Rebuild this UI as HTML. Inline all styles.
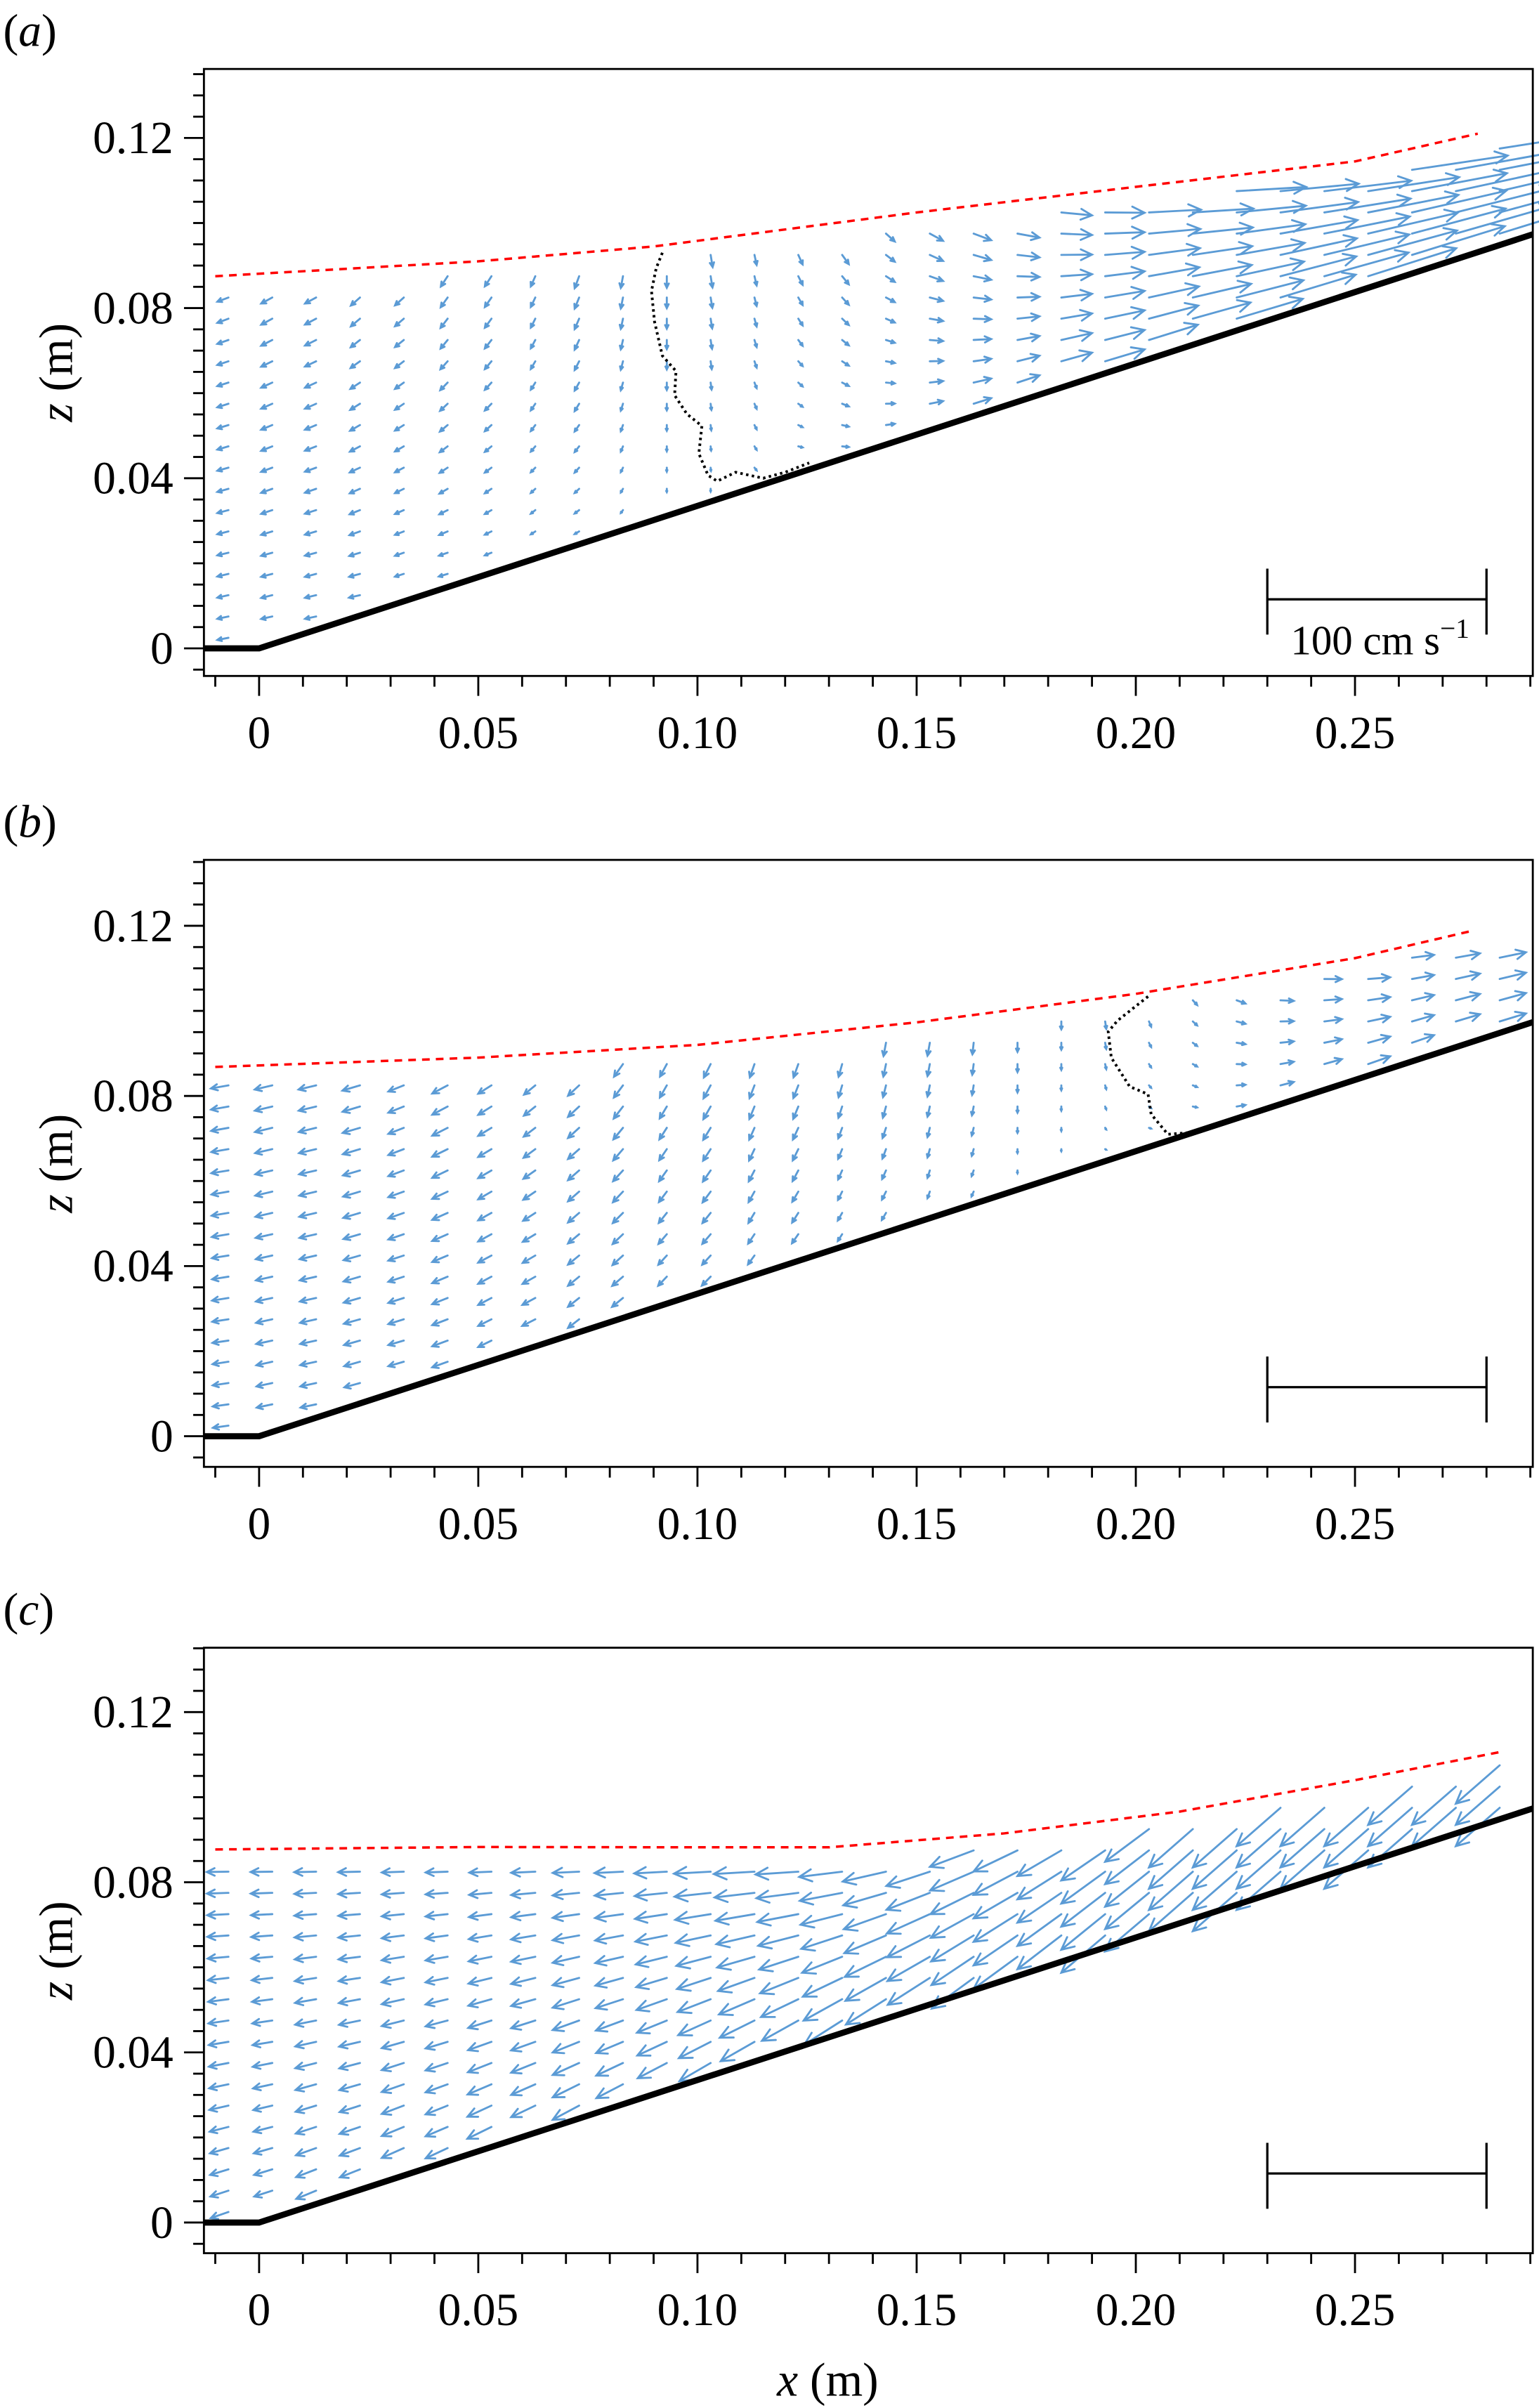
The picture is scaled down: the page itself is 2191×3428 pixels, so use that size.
<!DOCTYPE html>
<html><head><meta charset="utf-8">
<style>
html,body{margin:0;padding:0;background:#fff;}
svg{display:block;}
text{font-family:"Liberation Serif","DejaVu Serif",serif;fill:#000;}
</style></head>
<body>
<svg id="fig" xmlns="http://www.w3.org/2000/svg" width="2191" height="3428" viewBox="0 0 1004 1571">
<text x="2" y="30" font-size="30">(<tspan font-style="italic">a</tspan>)</text>
<text x="2" y="546" font-size="30">(<tspan font-style="italic">b</tspan>)</text>
<text x="2" y="1060" font-size="30">(<tspan font-style="italic">c</tspan>)</text>
<text x="540" y="1563" font-size="31" text-anchor="middle"><tspan font-style="italic">x</tspan> (m)</text>
</svg>
<script>
const xTicks=[0,0.05,0.10,0.15,0.20,0.25];
const xTickLabels=['0','0.05','0.10','0.15','0.20','0.25'];
const yTicks=[0,0.04,0.08,0.12];
const yTickLabels=['0','0.04','0.08','0.12'];
const colX=[-0.007,0.003,0.013,0.023,0.033,0.043,0.053,0.063,0.073,0.083,0.093,0.103,0.113,0.123,0.133,0.143,0.153,0.163,0.173,0.183,0.193,0.203,0.213,0.223,0.233,0.243,0.253,0.263,0.273,0.283];
const bedSlope=0.335;
// surface elevations
const aSurfX=[-0.01,0.05,0.09,0.15,0.2,0.25,0.278];
const aSurfZ=[0.0875,0.091,0.0945,0.1025,0.1085,0.1145,0.121];
const bSurfX=[-0.01,0.05,0.1,0.15,0.2,0.25,0.277];
const bSurfZ=[0.0868,0.089,0.092,0.0973,0.104,0.1124,0.1189];
const cSurfX=[-0.01,0.05,0.1,0.13,0.17,0.21,0.25,0.283];
const cSurfZ=[0.0877,0.0883,0.0882,0.0882,0.0915,0.0966,0.104,0.1106];
// velocities (cm/s), near surface and near bed, per column
const aTopU=[-5,-5,-5,-4,-4,-3,-3,-2,-2,-1,0,1,1,2,3,4,6,8,10,14,18,24,28,32,36,40,42,44,45,45];
const aTopW=[-2,-3,-3,-4,-4,-5,-5,-5,-6,-6,-6,-6,-5,-5,-5,-4,-4,-4,-3,-2,-1,0,0,1,2,3,4,5,6,6];
const aBotU=[-5,-5,-5,-5,-4,-4,-3,-2,-2,-1,0,0,1,2,3,4,6,8,10,14,18,22,26,30,34,38,40,42,44,44];
const aBotW=[-1,-1,-1,-1,-1,-1,-1,-1,-1,-1,-1,-1,-1,0,0,1,2,3,4,5,6,8,9,10,12,13,14,15,15,15];
const bTopU=[-8,-8,-8,-8,-7,-7,-6,-5,-5,-4,-3,-3,-2,-2,-1.5,-1,-1,-0.5,0,0,0.5,1,2,4,6,8,10,10,11,12];
const bTopW=[-1.5,-2,-2,-2.5,-3,-4,-4,-4.5,-5,-6,-6,-6.5,-6.5,-6.5,-6.5,-6.5,-6.5,-6,-5,-4,-4,-3,-2.5,-2,-1,-0.5,0,1,1.5,2];
const bBotU=[-7,-7,-7,-7,-7,-7,-6,-6,-5,-5,-4,-4,-3,-3,-2,-2,-1,-1,0,0,0.5,1,2,4,6,8,10,10,11,12];
const bBotW=[-1,-1.5,-1.5,-2,-2,-2.5,-3,-3,-4,-4,-4,-4,-4,-4,-3,-3,-2.5,-2,-1,-0.5,0,0,0,1,2,3,4,4,4,4];
const cTopU=[-10,-10,-10,-10,-10,-10,-10,-11,-12,-13,-15,-17,-19,-20,-20,-20,-20,-20,-20,-20,-20,-20,-20,-20,-20,-20,-20,-20,-20,-20];
const cTopW=[0,0,0,0,0,0,0,0,0,0,0,0,0,0,-1,-3,-5,-7,-9,-11,-13,-15,-18,-18,-18,-18,-18,-18,-18,-18];
const cBotU=[-8,-8,-9,-9,-10,-10,-11,-11,-12,-12,-13,-14,-15,-16,-17,-18,-19,-19,-20,-20,-20,-20,-20,-20,-20,-20,-20,-20,-20,-20];
const cBotW=[-3,-3,-4,-4,-5,-5,-6,-6,-7,-7,-8,-9,-10,-11,-12,-13,-14,-15,-16,-17,-18,-18,-18,-18,-18,-18,-18,-18,-18,-18];
// breaking front (black dotted)
const aFrontX=[0.092,0.0906,0.0895,0.0902,0.092,0.0951,0.0948,0.0976,0.101,0.1003,0.1024,0.1045,0.1087,0.115,0.12,0.1255];
const aFrontZ=[0.093,0.0894,0.084,0.0768,0.0688,0.0652,0.0595,0.0551,0.0523,0.0458,0.0407,0.0393,0.0414,0.04,0.0414,0.0436];
const bFrontX=[0.2028,0.1958,0.1937,0.1944,0.1986,0.2028,0.2035,0.2073,0.2126,0.2171];
const bFrontZ=[0.1034,0.0977,0.0951,0.089,0.0822,0.0804,0.0757,0.071,0.0714,0.0724];

const NS='http://www.w3.org/2000/svg';
const svg=document.getElementById('fig');
const XMIN=-0.0126,XMAX=0.2906,L=133,R=1000,SX=2860,SZ=2775;
function X(x){return 169+SX*x;}
function mk(tag,attrs,parent){const e=document.createElementNS(NS,tag);for(const k in attrs)e.setAttribute(k,attrs[k]);(parent||svg).appendChild(e);return e;}
function interp(xs,zs,x){if(x<=xs[0])return zs[0];for(let i=1;i<xs.length;i++){if(x<=xs[i]){const t=(x-xs[i-1])/(xs[i]-xs[i-1]);return zs[i-1]+t*(zs[i]-zs[i-1]);}}return zs[zs.length-1];}
function bed(x){return x<0?0:x*bedSlope;}

const panels=[
 {id:'a',zero:423,top:45,bot:441,sx:aSurfX,sz:aSurfZ,tu:aTopU,tw:aTopW,bu:aBotU,bw:aBotW,fx:aFrontX,fz:aFrontZ,label:true},
 {id:'b',zero:937,top:561,bot:957,sx:bSurfX,sz:bSurfZ,tu:bTopU,tw:bTopW,bu:bBotU,bw:bBotW,fx:bFrontX,fz:bFrontZ},
 {id:'c',zero:1450,top:1075,bot:1470,sx:cSurfX,sz:cSurfZ,tu:cTopU,tw:cTopW,bu:cBotU,bw:cBotW,fx:null,fz:null}
];

panels.forEach(p=>{
 const Z=z=>p.zero-SZ*z;
 const g=mk('g',{});
 
 
 const ag=mk('g',{stroke:'#5b9bd5','stroke-width':1.3,fill:'none','stroke-linecap':'round'},g);
 
 
 colX.forEach((x,k)=>{
  const eta=interp(p.sx,p.sz,x), b=bed(x);
  for(let z=0.0025;z<0.14;z+=0.005){
   if(z>eta-0.003||z<b+0.002)continue;
   const f=(z-b)/(eta-b);
   const u=p.bu[k]+f*(p.tu[k]-p.bu[k]);
   const w=p.bw[k]+f*(p.tw[k]-p.bw[k]);
   const x0=X(x),y0=Z(z),x1=X(x+u*0.0005),y1=Z(z+w*0.0005);
   const dx=x1-x0,dy=y1-y0,len=Math.hypot(dx,dy);
   if(len<0.6)continue;
   const hl=Math.min(0.4*len,9),a=Math.atan2(dy,dx),sp=0.45;
   const hx1=x1-hl*Math.cos(a-sp),hy1=y1-hl*Math.sin(a-sp);
   const hx2=x1-hl*Math.cos(a+sp),hy2=y1-hl*Math.sin(a+sp);
   const pth=mk('path',{d:`M${x0.toFixed(1)},${y0.toFixed(1)}L${x1.toFixed(1)},${y1.toFixed(1)}M${hx1.toFixed(1)},${hy1.toFixed(1)}L${x1.toFixed(1)},${y1.toFixed(1)}L${hx2.toFixed(1)},${hy2.toFixed(1)}`},ag);
   
   
  }
 });
 const sp=p.sx.map((x,i)=>`${X(x).toFixed(1)},${Z(p.sz[i]).toFixed(1)}`).join(' ');
 const surf=mk('polyline',{points:sp,fill:'none',stroke:'#ff0000','stroke-width':1.6,'stroke-dasharray':'5,4'},g);
 
 
 if(p.fx){
  const fp=p.fx.map((x,i)=>`${X(x).toFixed(1)},${Z(p.fz[i]).toFixed(1)}`).join(' ');
  const fr=mk('polyline',{points:fp,fill:'none',stroke:'#000','stroke-width':1.8,'stroke-dasharray':'1.6,2.2'},g);
  
  
 }
 const bedL=mk('polyline',{points:`${L},${Z(0)} ${X(0)},${Z(0)} ${R},${Z(bed(XMAX))}`,fill:'none',stroke:'#000','stroke-width':4},g);
 
 
 const fr=mk('rect',{x:L,y:p.top,width:R-L,height:p.bot-p.top,fill:'none',stroke:'#000','stroke-width':1.3},g);
 
 
 const tg=mk('g',{stroke:'#000','stroke-width':1.3},g);
 
 
 for(let i=-1;i<=29;i++){const x=i*0.01;const maj=(i%5===0);mk('line',{x1:X(x),x2:X(x),y1:p.bot,y2:p.bot+(maj?13:7)},tg);}
 for(let i=-1;i<=27;i++){const z=i*0.005;const y=Z(z);if(y<p.top-0.5)continue;const maj=(i%8===0);mk('line',{x1:L,x2:L-(maj?13:7),y1:y,y2:y},tg);}
 xTicks.forEach((x,i)=>{const t=mk('text',{x:X(x),y:p.bot+47,'font-size':30,'text-anchor':'middle'},g);t.textContent=xTickLabels[i];
  
  });
 yTicks.forEach((z,i)=>{const t=mk('text',{x:113,y:Z(z)+10,'font-size':30,'text-anchor':'end'},g);t.textContent=yTickLabels[i];
  
  });
 const yt=mk('text',{x:0,y:0,'font-size':31,'text-anchor':'middle',transform:`translate(47,${(p.top+p.bot)/2}) rotate(-90)`},g);
 yt.innerHTML='<tspan font-style="italic">z</tspan> (m)';
 
 
 const by=p.zero-32;
 const sb=mk('path',{d:`M${X(0.23)},${by}H${X(0.28)}M${X(0.23)},${by-20}V${by+23}M${X(0.28)},${by-20}V${by+23}`,stroke:'#000','stroke-width':1.5,fill:'none'},g);
 
 
 if(p.label){
  const st=mk('text',{x:(X(0.23)+X(0.28))/2+2,y:by+36,'font-size':27,'text-anchor':'middle'},g);
  st.innerHTML='100 cm s<tspan dy="-11" font-size="18">−1</tspan>';
  
  
 }
});
</script>
</body></html>
